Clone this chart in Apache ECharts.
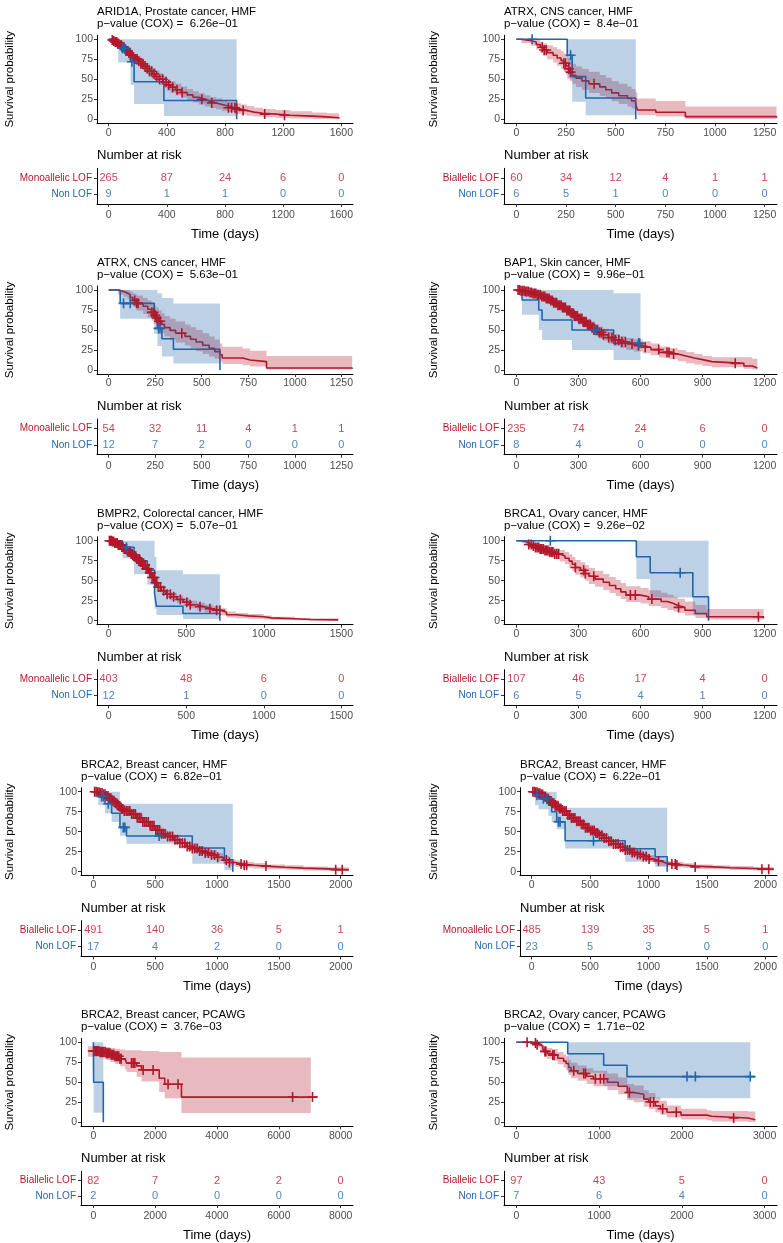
<!DOCTYPE html>
<html><head><meta charset="utf-8">
<script src="https://cdn.jsdelivr.net/npm/echarts@6/dist/echarts.min.js"></script>
<style>html,body{margin:0;padding:0;background:#fff}#c{width:783px;height:1243px}</style>
</head><body><div id="c"></div>
<script>
// ---------- DATA: steps are [time, survival %, lower CI %, upper CI %] ----------
const p1Red = [[0,100,100,100],[15,99.2,98,100],[30,98,96,100],[45,96.5,94,99],[60,94.5,92,97.5],[75,92.5,89.5,96],[90,90.5,87,94],[105,88,84,92],[120,85.5,81,90],[135,83,78,88],[150,80.5,75.5,86],[165,78,72.5,83.5],[180,75.5,70,81.5],[200,72.5,66.5,78.5],[220,69.5,63,76],[240,66.5,60,73],[260,63.5,56.5,70.5],[280,60,53,67],[300,57,50,64],[325,53.5,46.5,61],[350,50,43,57.5],[375,46.5,39.5,54],[400,43,36,50.5],[425,40,33,47.5],[460,37,30,44.5],[500,33.5,27,41],[540,30.5,24,38],[580,27.5,21,35],[620,25,18.5,32.5],[660,22.5,16,30],[700,20.5,14,28],[740,18.5,12.5,26],[780,16.5,10.5,24],[820,14.5,9,22],[870,12.5,7,20],[910,11,6,18.5],[950,9,4.5,16.5],[1000,7.5,3.5,14.5],[1060,6.5,2.5,13],[1150,5,1.5,11.5],[1250,4,1,10],[1400,3,0.5,8.5],[1500,2,0,7.5],[1584,1,null,null]];
const p1RedCens = [25,35,45,55,62,70,80,88,96,104,112,120,130,140,150,160,170,182,195,208,222,236,250,265,280,296,312,330,350,372,395,414,440,470,505,641,709,823,845,868,880,925,1073,1209];
const p1Blue = [[0,100,100,100],[66,88.9,71,100],[150,72,43,100],[175,47,19,100],[380,23.5,4,100],[880,0,null,null]];
const p1BlueCens = [95,107,160];
const p1Ticks = [0,400,800,1200,1600];
const p1RiskRed = [265,87,24,6,0];
const p1RiskBlue = [9,1,1,0,0];

const p2Red = [[0,100,100,100],[25,98.3,95,100],[75,96.7,92,100],[100,93.3,87,99],[120,90,83,97],[135,86.7,79,95],[155,83.3,75,92.5],[185,80,71,90],[205,76.7,67,87.5],[225,73.3,63,85],[238,70,59.5,82],[250,66.7,56,79.5],[262,63,52,76.5],[270,59,48,73],[282,55,44,69.5],[300,51.5,40.5,66],[330,48,37,63],[365,44.5,33,59.5],[420,40.5,29,55.5],[450,37,26,52],[480,33,22.5,48],[515,29.5,19,44.5],[560,26,16,41],[580,23,13.5,38],[600,20,11,34],[609,11.7,5,26],[702,8.75,3.5,23],[851,3.3,0.5,16],[1310,2,null,null]];
const p2RedCens = [130,140,150,239,247,264,273,391];
const p2Blue = [[0,100,100,100],[256,80,50,100],[281,53.3,22,100],[349,26.7,5,100],[601,0,null,null]];
const p2BlueCens = [79,273];
const p2Ticks = [0,250,500,750,1000,1250];
const p2RiskRed = [60,34,12,4,1,1];
const p2RiskBlue = [6,5,1,0,0,0];

const p3Red = [[0,100,100,100],[50,98.1,94.5,100],[80,96.3,91.5,100],[100,94.4,88.5,100],[115,90.7,83.5,98],[130,87,79,95.5],[150,83.3,74.5,93],[185,79.6,70,90],[210,75.9,65.5,87],[230,72,61.5,84],[242,68.5,57.5,81],[255,65,54,78],[270,61,50,74.5],[285,57,46,71],[300,53,42,67.5],[330,49.5,38,64],[360,46,34.5,60.5],[410,42,30.5,57],[440,38.5,27,53.5],[470,35,23.5,50],[505,31,20,46],[540,27,17,42],[570,23,14,38],[598,19,10.5,33],[610,15,7.5,29],[720,12.5,6,27],[760,10.5,4.5,24],[848,2.5,0.5,17.5],[1308,1.5,null,null]];
const p3RedCens = [140,150,158,232,241,250,259,270,277,393];
const p3Blue = [[0,100,100,100],[62,83.3,64,100],[245,66.7,45,100],[262,52,30,96],[286,39,17,90],[348,26,8,83],[598,0,null,null]];
const p3BlueCens = [80,116,268,276];
const p3Ticks = [0,250,500,750,1000,1250];
const p3RiskRed = [54,32,11,4,1,1];
const p3RiskBlue = [12,7,2,0,0,0];

const p4Red = [[0,100,100,100],[20,99.1,98,100],[40,98.2,96.5,100],[60,97,95,99],[80,95.5,93,98],[100,94,91,97],[120,92,88.5,95.5],[140,89.5,85.5,93.5],[160,87,82.5,91.5],[180,84,79,89],[200,81,75.5,86.5],[220,78,72,84],[240,74.5,68.5,80.5],[260,71,64.5,77.5],[280,67.5,60.5,74],[300,64,57,71],[320,60,53,67.5],[340,56.5,49,64],[360,53,45.5,60.5],[380,50,42.5,57.5],[400,47,39.5,54.5],[420,44,36.5,51.5],[445,40.5,33,48],[470,37.5,30,45],[500,35,27.5,42.5],[530,32.5,25,40],[570,30.5,23,38],[610,28.5,21,36],[650,25.5,18.5,33],[690,22,15.5,29.5],[740,20,13.5,27.5],[780,17.5,11,25],[820,15,8.5,22.5],[860,13,7,20],[900,10.5,5,17.5],[945,8.3,3.5,16],[1100,5,1.5,16],[1140,2.5,0.5,14],[1165,2.5,null,null]];
const p4RedCens = [8,15,22,30,37,44,51,58,66,73,80,87,94,101,108,116,123,130,137,144,151,158,166,173,180,187,194,201,208,216,223,230,237,244,251,258,266,273,280,287,294,301,308,316,323,330,337,344,351,358,366,373,380,390,400,410,420,446,462,478,495,510,527,559,590,623,688,728,738,760,1058];
const p4Blue = [[0,100,100,100],[27,87.5,69,100],[108,75,50,100],[124,62.5,37.5,100],[269,50,25,100],[470,33.3,12.5,96],[600,33.3,null,null]];
const p4BlueCens = [374,385,591,596];
const p4Ticks = [0,300,600,900,1200];
const p4RiskRed = [235,74,24,6,0];
const p4RiskBlue = [8,4,0,0,0];

const p5Red = [[0,100,100,100],[20,99,98,100],[40,97,95.5,98.5],[60,94.5,93,96.5],[80,92,90,94],[100,89.5,87,92],[120,86.5,84,89.5],[140,83.5,80.5,86.5],[160,80.5,77,84],[180,77,73.5,80.5],[200,73.5,70,77.5],[220,69.5,65.5,73.5],[240,65,61,69.5],[260,60,55.5,64.5],[280,54,49.5,59],[300,47.5,43,52.5],[320,42,37.5,47],[340,37.5,33,42.5],[370,33,28.5,38],[400,30,25.5,35],[440,26.5,22,31.5],[480,23,18.5,28],[520,20,15.5,25],[570,17.5,13,22.5],[620,15,10.5,20],[670,13,8.5,18],[720,10.5,6.5,15.5],[760,7.5,4,11.5],[820,6,3,9.5],[900,5,2.5,8.5],[1000,3.5,1.5,6.5],[1050,2.5,1,5],[1200,1.5,0.5,3.5],[1300,1,0.3,3],[1480,1,null,null]];
const p5RedCens = [5,12,18,25,32,40,48,55,62,70,78,85,92,100,108,115,122,130,138,145,152,160,168,175,182,190,198,205,212,220,228,235,242,250,258,265,272,280,288,295,302,310,320,334,355,377,398,419,462,504,526,589,653,696,717];
const p5Blue = [[0,100,100,100],[89,91.7,78,100],[164,75,58,100],[249,63,45,100],[296,34,15,80],[308,18,7,63],[479,9,2,58],[717,0,null,null]];
const p5BlueCens = [115];
const p5Ticks = [0,500,1000,1500];
const p5RiskRed = [403,48,6,0];
const p5RiskBlue = [12,1,0,0];

const p6Red = [[0,100,100,100],[25,99,97,100],[45,97.2,94,100],[60,95.3,91.5,99],[75,93.5,89,98],[90,91.6,86.5,97],[110,89.7,84,95.5],[135,87.8,82,94],[160,85.9,79.5,92.5],[185,83.5,77,90.5],[210,81,74,88.5],[235,78,70.5,86],[255,74.5,66.5,83],[270,70.5,62,79.5],[285,66.5,57.5,76],[310,63,54,73],[333,59,50,69.5],[350,55.5,46,66],[380,52,42.5,62.5],[420,48,38.5,58.5],[450,44,34.5,54.5],[480,40,31,51],[505,36,27,47],[530,32,23.5,43],[600,30,21.5,41],[640,27,18.5,38],[700,24,16,35],[730,21.5,13.5,32.5],[760,19,11.5,30],[780,16.7,9.5,27.5],[815,13,6.5,24],[865,9,3.5,19.5],[920,5,1.5,14.5],[1195,3,null,null]];
const p6RedCens = [60,72,82,92,100,108,115,122,130,138,145,152,160,168,176,185,195,204,285,325,333,374,551,575,655,784,1170];
const p6Blue = [[0,100,100,100],[580,80,52,100],[647,60,29,100],[853,30,7,100],[929,0,null,null]];
const p6BlueCens = [164,792];
const p6Ticks = [0,300,600,900,1200];
const p6RiskRed = [107,46,17,4,0];
const p6RiskBlue = [6,5,4,1,0];

const p7Red = [[0,100,100,100],[25,99.4,98.5,100],[50,98.4,97,99.5],[75,96.8,95,98.5],[100,94.5,92.5,96.5],[125,91.8,89.5,94],[150,88.8,86,91.5],[175,85.5,82.5,88.5],[200,82,78.5,85.5],[225,78.5,75,82],[250,76,72,80],[300,72,68,76],[350,67.5,63.5,72],[400,62,57.5,66.5],[450,57.5,53,62],[500,52,47,57],[550,47.5,42.5,52.5],[600,44,39,49.5],[650,40,35,45.5],[700,35.5,30,41],[750,31.5,26,37],[800,29,23.5,34.5],[850,26,20.5,31.5],[900,23.5,18,29],[950,21,15.5,26.5],[1000,18,13,23.5],[1050,14.5,10,19.5],[1100,11.5,7.5,16],[1150,9.5,6,14],[1200,8,5,12],[1300,7,4,11],[1400,5.5,3,9],[1550,4.5,2.5,8],[1700,3.5,1.5,6.5],[1900,2.5,1,5.5],[2067,2.5,null,null]];
const p7RedCens = [10,22,34,46,58,70,82,94,106,118,130,142,154,166,178,190,202,214,226,238,250,265,280,295,310,325,340,355,370,385,400,415,430,445,460,475,490,505,520,535,550,565,580,600,620,640,660,680,700,720,740,760,780,800,820,840,860,880,905,930,955,980,1005,1075,1100,1195,1220,1240,1396,1960,2013];
const p7Blue = [[0,100,100,100],[40,94.1,83,100],[94,85,73,100],[148,73,62,100],[215,55.4,45,85],[268,44.6,35,85],[800,29.7,10,85],[1060,14.9,2,85],[1128,0,null,null]];
const p7BlueCens = [67,81,121,242,255,532];
const p7Ticks = [0,500,1000,1500,2000];
const p7RiskRed = [491,140,36,5,1];
const p7RiskBlue = [17,4,2,0,0];

const p8Red = [[0,100,100,100],[25,99.4,98.5,100],[50,98.2,97,99.5],[75,96.5,95,98],[100,94,92,96],[125,91.3,89,93.5],[150,88.5,86,91],[175,85.5,82.5,88.5],[200,82.5,79.5,85.5],[230,79,75.5,82.5],[260,76,72.5,79.5],[300,71,67,75],[340,67,63,71],[380,63,58.5,67.5],[420,59,54.5,63.5],[460,55,50.5,59.5],[500,51.5,47,56],[540,48.5,44,53],[580,45.5,41,50.5],[620,42,37,47],[660,38,33,43],[700,34.5,29.5,39.5],[750,30.5,25.5,35.5],[800,27,22,32],[850,24,19,29],[900,21.5,16.5,26.5],[950,19,14.5,24],[1000,16,12,20.5],[1050,13.5,9.5,18],[1100,11,7.5,15],[1150,9.5,6.5,13],[1230,8.3,5.5,12],[1300,7,4.5,10.5],[1400,6,3.5,9],[1550,5,3,8],[1700,4,2,7],[1900,3,1.5,6],[2071,2.5,null,null]];
const p8RedCens = [10,22,34,46,58,70,82,94,106,118,130,142,154,166,178,190,202,214,226,238,250,265,280,295,310,325,340,355,370,385,400,415,430,445,460,475,490,505,520,535,550,565,580,600,620,640,660,680,700,720,740,760,780,800,820,840,860,880,905,930,955,980,1005,1086,1200,1229,1243,1400,1971,2029];
const p8Blue = [[0,100,100,100],[29,95.7,83,100],[60,91.3,78,100],[143,83,70,100],[171,75,62,100],[214,62.5,53,80],[286,38.75,29,80],[800,28.75,12.5,80],[1057,18.75,6,80],[1160,0,null,null]];
const p8BlueCens = [45,100,129,229,243,529];
const p8Ticks = [0,500,1000,1500,2000];
const p8RiskRed = [485,139,35,5,1];
const p8RiskBlue = [23,5,3,0,0];

const p9Red = [[-180,89.2,82,95],[200,87.8,80,95],[400,86.4,78,94],[550,84.5,75.5,93],[700,82.5,73,92],[860,79.3,70,91],[1020,77,66,90],[1080,74,63,90],[1400,70.5,57,90],[1560,65.5,51,89],[2130,55,38,88],[2310,47.5,30,88],[2850,31.5,11.5,81],[7035,31.5,null,null],[7250,31.5,null,null]];
const p9RedCens = [20,60,100,140,180,220,260,300,340,380,420,460,500,540,580,620,660,700,740,780,820,860,900,1235,1289,1343,1611,1933,2417,2739,6445,7089];
const p9Blue = [[0,100,100,100],[8,50,12,100],[322,0,null,null]];
const p9BlueCens = [];
const p9Ticks = [0,2000,4000,6000,8000];
const p9RiskRed = [82,7,2,2,0];
const p9RiskBlue = [2,0,0,0,0];

const p10Red = [[0,100,100,100],[170,99,97,100],[250,96.9,93.5,100],[290,94.8,90.5,99],[320,91.7,86.5,97],[340,88.6,82.5,95],[370,86,79.5,93],[430,84,77,91.5],[500,80,72.5,88],[570,76.5,68.5,85],[600,73.5,65,82.5],[630,68.5,59.5,78],[660,64.5,55.5,74.5],[740,61,52,71],[850,57.5,48,67.5],[930,54.5,45,64.5],[1100,50,40.5,61],[1230,45,35,56],[1340,37.3,27.5,48],[1420,35,25,46],[1540,29,19.5,40],[1600,25.5,16.5,36.5],[1680,20.5,12.5,31],[1740,17,9.5,27],[1820,12.5,6,21],[1990,9,3.5,17],[2300,7.5,2.5,15],[2360,5.4,1,14],[2800,3.3,0.5,13.5],[2888,3.3,null,null]];
const p10RedCens = [129,230,250,345,355,440,455,693,814,835,954,1015,1055,1365,1619,1659,1768,1933,2626];
const p10Blue = [[0,100,100,100],[620,85.7,62,100],[1055,71.4,45,100],[1337,57.1,30,100],[2827,57.1,null,null],[2888,57.1,null,null]];
const p10BlueCens = [2062,2163,2827];
const p10Ticks = [0,1000,2000,3000];
const p10RiskRed = [97,43,5,0];
const p10RiskBlue = [7,6,4,0];

const titles = ['ARID1A, Prostate cancer, HMF','ATRX, CNS cancer, HMF','ATRX, CNS cancer, HMF','BAP1, Skin cancer, HMF','BMPR2, Colorectal cancer, HMF','BRCA1, Ovary cancer, HMF','BRCA2, Breast cancer, HMF','BRCA2, Breast cancer, HMF','BRCA2, Breast cancer, PCAWG','BRCA2, Ovary cancer, PCAWG'];
const pValues = ['6.26e\u221201','8.4e\u221201','5.63e\u221201','9.96e\u221201','5.07e\u221201','9.26e\u221202','6.82e\u221201','6.22e\u221201','3.76e\u221203','1.71e\u221202'];
const groupLabels = ['Monoallelic LOF','Biallelic LOF','Monoallelic LOF','Biallelic LOF','Monoallelic LOF','Biallelic LOF','Biallelic LOF','Monoallelic LOF','Biallelic LOF','Biallelic LOF'];
const xLimits = [1600,1250,1250,1200,1500,1200,2000,2000,8000,3000];
const yTicks = [0,25,50,75,100];

const redCurves = [p1Red,p2Red,p3Red,p4Red,p5Red,p6Red,p7Red,p8Red,p9Red,p10Red];
const redCens = [p1RedCens,p2RedCens,p3RedCens,p4RedCens,p5RedCens,p6RedCens,p7RedCens,p8RedCens,p9RedCens,p10RedCens];
const blueCurves = [p1Blue,p2Blue,p3Blue,p4Blue,p5Blue,p6Blue,p7Blue,p8Blue,p9Blue,p10Blue];
const blueCens = [p1BlueCens,p2BlueCens,p3BlueCens,p4BlueCens,p5BlueCens,p6BlueCens,p7BlueCens,p8BlueCens,p9BlueCens,p10BlueCens];
const tickSets = [p1Ticks,p2Ticks,p3Ticks,p4Ticks,p5Ticks,p6Ticks,p7Ticks,p8Ticks,p9Ticks,p10Ticks];
const riskRed = [p1RiskRed,p2RiskRed,p3RiskRed,p4RiskRed,p5RiskRed,p6RiskRed,p7RiskRed,p8RiskRed,p9RiskRed,p10RiskRed];
const riskBlue = [p1RiskBlue,p2RiskBlue,p3RiskBlue,p4RiskBlue,p5RiskBlue,p6RiskBlue,p7RiskBlue,p8RiskBlue,p9RiskBlue,p10RiskBlue];

// ---------- STYLE / LAYOUT ----------
const RED = '#B2182B', BLUE = '#2166AC';
const RED_BAND = 'rgba(178,24,43,0.3)', BLUE_BAND = 'rgba(33,102,172,0.3)';
const FONT = "'Liberation Sans', Arial, Helvetica, sans-serif";
const PLUS = 'path://M4.2,0H5.8V4.2H10V5.8H5.8V10H4.2V5.8H0V4.2H4.2Z';
const rowY100 = [39.3, 290, 540.7, 791.7, 1042.3];
const plain = v => String(Math.round(Number(v)));

function survAt(steps, t) {
  let s = steps[0][1];
  for (const d of steps) { if (d[0] <= t) s = d[1]; else break; }
  return s;
}

function bandSeries(steps, color, idx) {
  return {
    type: 'custom', xAxisIndex: idx, yAxisIndex: idx, silent: true, z: 3,
    data: [[steps[0][0], steps[0][1]]],
    encode: { x: 0, y: 1 },
    renderItem: function (params, api) {
      const children = [];
      let up = [], dn = [];
      const flush = () => {
        if (up.length) children.push({ type: 'polygon', shape: { points: up.concat(dn.slice().reverse()) }, style: { fill: color } });
        up = []; dn = [];
      };
      for (let i = 0; i < steps.length - 1; i++) {
        const t = steps[i][0], lo = steps[i][2], hi = steps[i][3], t1 = steps[i + 1][0];
        if (lo == null || hi == null || hi - lo <= 0) { flush(); continue; }
        up.push(api.coord([t, hi]), api.coord([t1, hi]));
        dn.push(api.coord([t, lo]), api.coord([t1, lo]));
      }
      flush();
      return { type: 'group', children };
    }
  };
}

const grids = [], xAxes = [], yAxes = [], series = [], graphics = [];

for (let i = 0; i < 10; i++) {
  const r = Math.floor(i / 2), c = i % 2;
  const mono = groupLabels[i].indexOf('Mono') === 0;
  const left = c === 0 ? (mono ? 97 : 81) : (mono ? 520 : 504);
  const right = c === 0 ? 353 : 777;
  const w = right - left;
  const y100 = rowY100[r];
  const L = xLimits[i];
  const ticks = tickSets[i];
  const gp = grids.length;   // plot grid index
  const gt = gp + 1;         // table grid index

  grids.push({ left: left, top: y100 - 4, width: w, height: 88, containLabel: false });
  grids.push({ left: left, top: y100 + 129, width: w, height: 35.7, containLabel: false });

  const xAx = (gi, margin, extra) => Object.assign({
    gridIndex: gi, type: 'value', min: -0.05 * L, max: 1.05 * L,
    axisLine: { show: true, onZero: false, lineStyle: { color: '#000', width: 1 } },
    axisTick: { show: true, customValues: ticks, length: 3, lineStyle: { color: '#333', width: 1 } },
    axisLabel: { show: true, customValues: ticks, color: '#4D4D4D', fontSize: 10.5, fontFamily: FONT, margin: margin, formatter: plain },
    splitLine: { show: false }
  }, extra || {});
  xAxes.push(xAx(gp, 4));
  xAxes.push(xAx(gt, 5.5, { name: 'Time (days)', nameLocation: 'middle', nameGap: 24,
    nameTextStyle: { fontSize: 13, color: '#000', fontFamily: FONT } }));

  yAxes.push({
    gridIndex: gp, type: 'value', min: -5, max: 105,
    axisLine: { show: true, onZero: false, lineStyle: { color: '#000', width: 1 } },
    axisTick: { show: true, customValues: yTicks, length: 3, lineStyle: { color: '#333', width: 1 } },
    axisLabel: { show: true, customValues: yTicks, color: '#4D4D4D', fontSize: 10.5, fontFamily: FONT, margin: 4, formatter: plain },
    splitLine: { show: false }
  });
  const lab = groupLabels[i];
  yAxes.push({
    gridIndex: gt, type: 'value', min: 0.4, max: 2.6,
    axisLine: { show: true, onZero: false, lineStyle: { color: '#000', width: 1 } },
    axisTick: { show: true, customValues: [1, 2], length: 3, lineStyle: { color: '#333', width: 1 } },
    axisLabel: { show: true, customValues: [1, 2], fontSize: 10, fontFamily: FONT, margin: 5,
      formatter: v => (Number(v) === 2 ? lab : 'Non LOF'),
      color: v => (Number(v) === 2 ? RED : BLUE) },
    splitLine: { show: false }
  });

  // survival step lines
  series.push({ type: 'line', xAxisIndex: gp, yAxisIndex: gp, step: 'end', symbol: 'none', silent: true, z: 2,
    data: redCurves[i].map(d => [d[0], d[1]]), lineStyle: { color: RED, width: 1.6 }, itemStyle: { color: RED } });
  series.push({ type: 'line', xAxisIndex: gp, yAxisIndex: gp, step: 'end', symbol: 'none', silent: true, z: 2,
    data: blueCurves[i].map(d => [d[0], d[1]]), lineStyle: { color: BLUE, width: 1.6 }, itemStyle: { color: BLUE } });
  // confidence bands
  series.push(bandSeries(redCurves[i], RED_BAND, gp));
  series.push(bandSeries(blueCurves[i], BLUE_BAND, gp));
  // censor marks
  series.push({ type: 'scatter', xAxisIndex: gp, yAxisIndex: gp, symbol: PLUS, symbolSize: 10, silent: true, z: 4,
    data: redCens[i].map(t => [t, survAt(redCurves[i], t)]), itemStyle: { color: RED, opacity: 1 } });
  series.push({ type: 'scatter', xAxisIndex: gp, yAxisIndex: gp, symbol: PLUS, symbolSize: 10, silent: true, z: 4,
    data: blueCens[i].map(t => [t, survAt(blueCurves[i], t)]), itemStyle: { color: BLUE, opacity: 1 } });
  // risk table numbers
  series.push({ type: 'scatter', xAxisIndex: gt, yAxisIndex: gt, symbolSize: 1, silent: true,
    itemStyle: { color: 'rgba(0,0,0,0)' },
    data: ticks.map((t, k) => [t, 2, riskRed[i][k]]),
    label: { show: true, position: 'inside', formatter: p => String(p.value[2]), color: RED, fontSize: 11, fontFamily: FONT } });
  series.push({ type: 'scatter', xAxisIndex: gt, yAxisIndex: gt, symbolSize: 1, silent: true,
    itemStyle: { color: 'rgba(0,0,0,0)' },
    data: ticks.map((t, k) => [t, 1, riskBlue[i][k]]),
    label: { show: true, position: 'inside', formatter: p => String(p.value[2]), color: BLUE, fontSize: 11, fontFamily: FONT } });

  // texts
  const txt = (x, y, text, size, extra) => Object.assign({ type: 'text', x: x, y: y, silent: true,
    style: { text: text, fill: '#000', fontSize: size, fontFamily: FONT, align: 'left', verticalAlign: 'middle',
      textAlign: 'left', textVerticalAlign: 'middle' } }, extra || {});
  graphics.push(txt(left, y100 - 27, titles[i], 11.5));
  graphics.push(txt(left, y100 - 15.3, 'p\u2212value (COX) =  ' + pValues[i], 11.5));
  graphics.push(txt(left, y100 + 116.4, 'Number at risk', 13));
  graphics.push({ type: 'text', x: c === 0 ? 10 : 434, y: y100 + 40, rotation: Math.PI / 2, silent: true,
    style: { text: 'Survival probability', fill: '#000', fontSize: 11.5, fontFamily: FONT,
      align: 'center', verticalAlign: 'middle', textAlign: 'center', textVerticalAlign: 'middle' } });
}

const chart = echarts.init(document.getElementById('c'), null, { renderer: 'canvas' });
chart.setOption({
  animation: false,
  backgroundColor: '#fff',
  textStyle: { fontFamily: FONT },
  grid: grids, xAxis: xAxes, yAxis: yAxes, series: series, graphic: graphics
});
</script></body></html>
